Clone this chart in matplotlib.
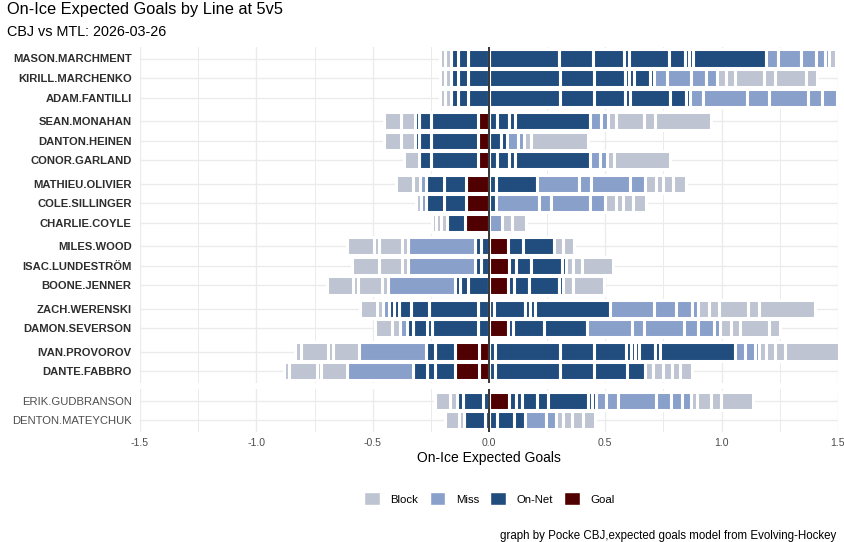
import matplotlib.pyplot as plt
from matplotlib.patches import Patch

plt.rcParams['font.family'] = ['Liberation Sans', 'DejaVu Sans']

# players top to bottom, and the line each belongs to
players = ["MASON.MARCHMENT", "KIRILL.MARCHENKO", "ADAM.FANTILLI",
           "SEAN.MONAHAN", "DANTON.HEINEN", "CONOR.GARLAND",
           "MATHIEU.OLIVIER", "COLE.SILLINGER", "CHARLIE.COYLE",
           "MILES.WOOD", "ISAC.LUNDESTRÖM", "BOONE.JENNER",
           "ZACH.WERENSKI", "DAMON.SEVERSON",
           "IVAN.PROVOROV", "DANTE.FABBRO",
           "ERIK.GUDBRANSON", "DENTON.MATEYCHUK"]
line_sizes = [3, 3, 3, 3, 2, 2]   # lines in the main panel
bottom_line = ["ERIK.GUDBRANSON", "DENTON.MATEYCHUK"]

# shots while on ice, listed outward from zero. G=Goal O=On-Net M=Miss B=Block
marchment_for = [("O", .30), ("O", .147), ("O", .135), ("O", .018), ("O", .174), ("O", .068), ("O", .017),
                 ("O", .018), ("O", .312), ("M", .055), ("M", .096), ("M", .067), ("M", .039), ("M", .017), ("B", .03)]
marchment_against = [("O", .089), ("O", .046), ("O", .027), ("B", .025), ("B", .022)]
marchenko_for = [("O", .304), ("O", .147), ("O", .135), ("O", .015), ("O", .021), ("O", .072), ("O", .015),
                 ("M", .058), ("M", .10), ("M", .066), ("M", .046),
                 ("B", .04), ("B", .04), ("B", .123), ("B", .046), ("B", .136), ("B", .046)]
marchenko_against = [("O", .089), ("O", .046), ("O", .027), ("B", .025), ("B", .022)]
fantilli_for = [("O", .304), ("O", .147), ("O", .135), ("O", .018), ("O", .174), ("O", .068), ("O", .018),
                ("M", .055), ("M", .188), ("M", .095), ("M", .167), ("M", .063), ("M", .064)]
fantilli_against = [("O", .089), ("O", .046), ("O", .027), ("B", .025), ("B", .022)]

monahan_for = [("O", .035), ("O", .05), ("O", .025), ("O", .325), ("M", .048), ("M", .03),
               ("B", .031), ("B", .124), ("B", .044), ("B", .242)]
monahan_against = [("G", .047), ("O", .201), ("O", .054), ("O", .018), ("B", .059), ("B", .071)]
heinen_for = [("O", .053), ("O", .023), ("M", .047), ("M", .027), ("B", .032), ("B", .243)]
heinen_against = [("G", .047), ("O", .201), ("O", .054), ("O", .018), ("B", .059), ("B", .071)]
garland_for = [("O", .035), ("O", .05), ("O", .025), ("O", .323), ("M", .045), ("M", .028), ("B", .032), ("B", .241)]
garland_against = [("G", .047), ("O", .201), ("O", .055), ("B", .061)]

olivier_for = [("O", .03), ("O", .178), ("M", .179), ("M", .052), ("M", .168), ("M", .063),
               ("B", .046), ("B", .033), ("B", .04), ("B", .057)]
olivier_against = [("G", .098), ("O", .095), ("O", .076), ("M", .026), ("B", .03), ("B", .075)]
sillinger_for = [("O", .031), ("M", .184), ("M", .051), ("M", .169), ("M", .063),
                 ("B", .046), ("B", .034), ("B", .04), ("B", .057)]
sillinger_against = [("G", .098), ("O", .095), ("O", .076), ("M", .022), ("B", .022)]
coyle_for = [("M", .055), ("B", .046), ("B", .058)]
coyle_against = [("G", .104), ("O", .077), ("B", .027), ("B", .018), ("B", .019)]

wood_for = [("G", .081), ("O", .064), ("O", .134), ("B", .039), ("B", .047)]
wood_against = [("O", .034), ("O", .028), ("M", .285), ("B", .026), ("B", .10), ("B", .021), ("B", .118)]
lundestrom_for = [("G", .084), ("O", .031), ("O", .065), ("O", .134), ("O", .017), ("B", .028), ("B", .041), ("B", .133)]
lundestrom_against = [("O", .034), ("O", .028), ("M", .285), ("B", .026), ("B", .10), ("B", .114)]
jenner_for = [("G", .081), ("O", .025), ("O", .065), ("O", .132), ("O", .017), ("B", .04), ("B", .133)]
jenner_against = [("O", .089), ("O", .034), ("O", .024), ("M", .287), ("B", .026), ("B", .101), ("B", .022), ("B", .115)]

werenski_for = [("O", .021), ("O", .135), ("O", .021), ("O", .021), ("O", .321),
                ("M", .191), ("M", .095), ("M", .069), ("M", .026),
                ("B", .046), ("B", .043), ("B", .125), ("B", .047), ("B", .239)]
werenski_against = [("O", .046), ("O", .21), ("O", .079), ("O", .051), ("O", .021), ("O", .024),
                    ("M", .025), ("B", .024), ("B", .073)]
severson_for = [("G", .081), ("O", .021), ("O", .135), ("O", .183),
                ("M", .193), ("M", .054), ("M", .171), ("M", .061), ("M", .067), ("M", .025),
                ("B", .047), ("B", .042), ("B", .125), ("B", .046)]
severson_against = [("O", .046), ("O", .199), ("O", .022), ("O", .059), ("O", .026), ("M", .029), ("B", .037), ("B", .071)]

provorov_for = [("O", .024), ("O", .28), ("O", .146), ("O", .138), ("O", .022), ("O", .018), ("O", .018),
                ("O", .066), ("O", .024), ("O", .321), ("M", .044), ("M", .041), ("M", .018),
                ("B", .029), ("B", .04), ("B", .043), ("B", .232)]
provorov_against = [("G", .043), ("G", .101), ("O", .089), ("O", .039), ("M", .287),
                    ("B", .111), ("B", .021), ("B", .118), ("B", .023)]
fabbro_for = [("O", .024), ("O", .28), ("O", .146), ("O", .141), ("O", .078),
              ("B", .037), ("B", .04), ("B", .04), ("B", .036), ("B", .049)]
fabbro_against = [("G", .043), ("G", .101), ("O", .089), ("O", .034), ("O", .059), ("M", .285),
                  ("B", .111), ("B", .017), ("B", .121), ("B", .021)]

gudbranson_for = [("G", .084), ("O", .03), ("O", .026), ("O", .067), ("O", .047), ("O", .17), ("O", .017), ("O", .017),
                  ("M", .046), ("M", .05), ("M", .165), ("M", .064), ("M", .046), ("M", .04),
                  ("B", .027), ("B", .059), ("B", .044), ("B", .134)]
gudbranson_against = [("O", .026), ("O", .086), ("O", .025), ("B", .031), ("B", .062)]
mateychuk_for = [("O", .036), ("O", .071), ("O", .046), ("M", .091), ("M", .046),
                 ("B", .029), ("B", .036), ("B", .048), ("B", .052)]
mateychuk_against = [("O", .016), ("O", .091), ("B", .021), ("B", .06)]

shots_for = [marchment_for, marchenko_for, fantilli_for, monahan_for, heinen_for, garland_for,
             olivier_for, sillinger_for, coyle_for, wood_for, lundestrom_for, jenner_for,
             werenski_for, severson_for, provorov_for, fabbro_for, gudbranson_for, mateychuk_for]
shots_against = [marchment_against, marchenko_against, fantilli_against, monahan_against, heinen_against,
                 garland_against, olivier_against, sillinger_against, coyle_against, wood_against,
                 lundestrom_against, jenner_against, werenski_against, severson_against,
                 provorov_against, fabbro_against, gudbranson_against, mateychuk_against]

kinds = ["B", "M", "O", "G"]
kind_names = {"B": "Block", "M": "Miss", "O": "On-Net", "G": "Goal"}
colors = {"B": "#BEC4D1", "M": "#89A0CB", "O": "#214D7E", "G": "#500000"}

W, H = 845, 542
fig = plt.figure(figsize=(W / 100, H / 100), dpi=100)

def px_axes(left, top, right, bottom):
    return fig.add_axes([left / W, 1 - bottom / H, (right - left) / W, (bottom - top) / H])

ax_main = px_axes(140, 46.7, 838, 383)
ax_bot = px_axes(140, 389, 838, 432)

# row positions in main panel (a little extra space between lines)
ypos = []
y = 0.0
for n in line_sizes:
    for k in range(n):
        ypos.append(y)
        y += 1
    y += 0.18
ypos_bot = [0.0, 1.0]

def draw_row(ax, yy, name):
    i = players.index(name)
    for shots, sign in ((shots_for[i], 1), (shots_against[i], -1)):
        left = 0.0
        for kind, xg in shots:
            ax.barh(yy, sign * xg, left=left, height=0.92, color=colors[kind],
                    edgecolor="white", linewidth=2.2, zorder=2)
            left += sign * xg

main_names = [p for p in players if p not in bottom_line]
for yy, name in zip(ypos, main_names):
    draw_row(ax_main, yy, name)
for yy, name in zip(ypos_bot, bottom_line):
    draw_row(ax_bot, yy, name)

ticks = [-1.5, -1.0, -0.5, 0.0, 0.5, 1.0, 1.5]
minor = [-1.25, -0.75, -0.25, 0.25, 0.75, 1.25]
for ax, yp, names in ((ax_main, ypos, main_names), (ax_bot, ypos_bot, bottom_line)):
    ax.set_xlim(-1.5, 1.5)
    ax.set_ylim(yp[-1] + 0.6, yp[0] - 0.6)
    for s in ax.spines.values():
        s.set_visible(False)
    ax.set_xticks(ticks)
    ax.set_xticks(minor, minor=True)
    ax.set_yticks(yp)
    ax.set_yticklabels(names)
    ax.tick_params(length=0, which="both")
    ax.tick_params(axis="y", pad=6)
    ax.grid(True, which="major", color="#EBEBEB", linewidth=1.0, zorder=0)
    ax.grid(True, which="minor", axis="x", color="#EBEBEB", linewidth=0.7, zorder=0)
    ax.set_axisbelow(True)
    ax.axvline(0, color="black", linewidth=1.1, zorder=5)

for lab in ax_main.get_yticklabels():
    lab.set_fontweight("bold")
    lab.set_fontsize(8.1)
    lab.set_color("#2E2E2E")
for lab in ax_bot.get_yticklabels():
    lab.set_fontsize(8.1)
    lab.set_color("#4D4D4D")

ax_main.set_xticklabels([])
ax_bot.set_xticklabels([f"{t:.1f}" for t in ticks], fontsize=7.6, color="#4D4D4D")
ax_bot.tick_params(axis="x", pad=4)

fig.text(489 / W, 1 - 462.3 / H, "On-Ice Expected Goals", ha="center", va="baseline", fontsize=10)
fig.text(7 / W, 1 - 14.3 / H, "On-Ice Expected Goals by Line at 5v5", ha="left", va="baseline", fontsize=11.8)
fig.text(7 / W, 1 - 35.7 / H, "CBJ vs MTL: 2026-03-26", ha="left", va="baseline", fontsize=10.4)
fig.text(836.7 / W, 1 - 539 / H, "graph by Pocke CBJ,expected goals model from Evolving-Hockey",
         ha="right", va="baseline", fontsize=8.3)

handles = [Patch(facecolor=colors[k], edgecolor="white", label=kind_names[k]) for k in kinds]
fig.legend(handles=handles, loc="center", bbox_to_anchor=(489.5 / W, 1 - 498.8 / H), ncol=4,
           frameon=False, fontsize=8.2, handlelength=1.4, handleheight=1.4,
           handletextpad=0.9, columnspacing=1.0)

fig.savefig("out.png", dpi=100)
